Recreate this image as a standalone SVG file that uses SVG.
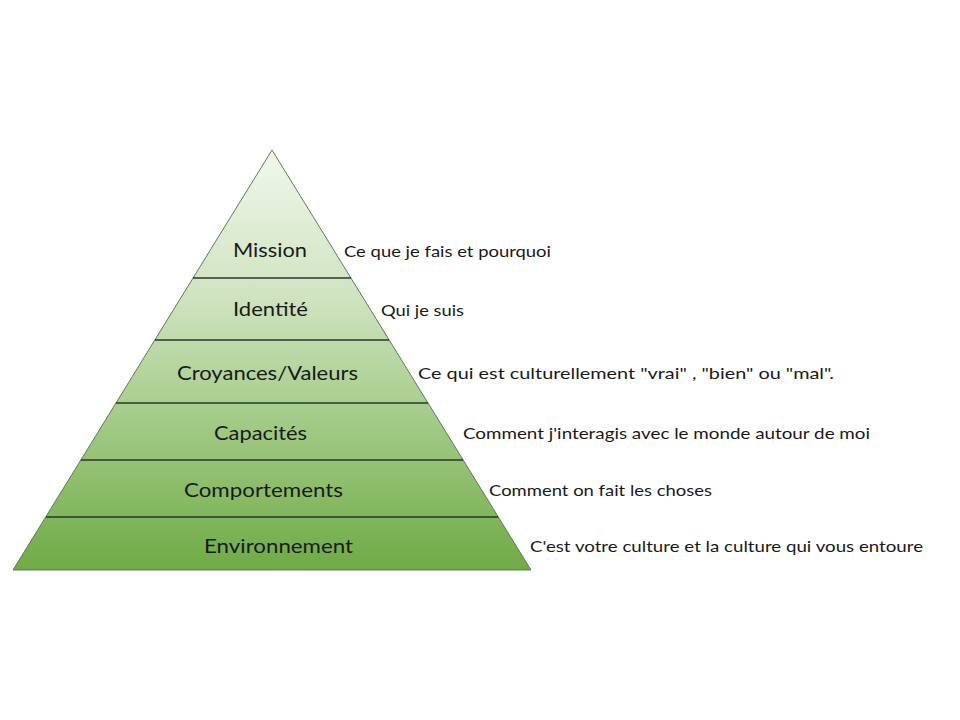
<svg xmlns="http://www.w3.org/2000/svg" width="960" height="720" viewBox="0 0 960 720">
  <defs>
    <linearGradient id="g" x1="0" y1="150" x2="0" y2="570" gradientUnits="userSpaceOnUse">
      <stop offset="0" stop-color="#f1f7ec"/>
      <stop offset="0.35" stop-color="#cfe3c0"/>
      <stop offset="0.6" stop-color="#a9cf8f"/>
      <stop offset="1" stop-color="#6fab45"/>
    </linearGradient>
  </defs>
  <style>
    .lbl { font-family: Lato, "Open Sans", "Liberation Sans", sans-serif; font-size: 20px; fill: #1a1a1a; }
    .desc { font-family: Lato, "Open Sans", "Liberation Sans", sans-serif; font-size: 16px; fill: #1a1a1a; }
    .div { stroke: #2b352b; stroke-width: 1.3; }
  </style>
  <rect width="960" height="720" fill="#ffffff"/>
  <g id="pyramid">
    <polygon points="272,150 531,570 13,570" fill="url(#g)" stroke="#66775e" stroke-width="1"/>
  </g>
  <g id="connectors">
    <line class="div" x1="193" y1="278" x2="351" y2="278"/>
    <line class="div" x1="155" y1="340" x2="389" y2="340"/>
    <line class="div" x1="116" y1="403" x2="428" y2="403"/>
    <line class="div" x1="81" y1="460" x2="463" y2="460"/>
    <line class="div" x1="46" y1="517" x2="498" y2="517"/>
  </g>
  <g id="mission">
    <text class="lbl" x="233" y="257" textLength="74" lengthAdjust="spacingAndGlyphs">Mission</text>
    <text class="desc" x="344" y="257" textLength="207" lengthAdjust="spacingAndGlyphs">Ce que je fais et pourquoi</text>
  </g>
  <g id="identite">
    <text class="lbl" x="233" y="316" textLength="75" lengthAdjust="spacingAndGlyphs">Identité</text>
    <text class="desc" x="381" y="316" textLength="83" lengthAdjust="spacingAndGlyphs">Qui je suis</text>
  </g>
  <g id="croyances">
    <text class="lbl" x="177" y="380" textLength="181" lengthAdjust="spacingAndGlyphs">Croyances/Valeurs</text>
    <text class="desc" x="418" y="379" textLength="416" lengthAdjust="spacingAndGlyphs">Ce qui est culturellement "vrai" , "bien" ou "mal".</text>
  </g>
  <g id="capacites">
    <text class="lbl" x="214" y="440" textLength="93" lengthAdjust="spacingAndGlyphs">Capacités</text>
    <text class="desc" x="463" y="439" textLength="407" lengthAdjust="spacingAndGlyphs">Comment j'interagis avec le monde autour de moi</text>
  </g>
  <g id="comportements">
    <text class="lbl" x="184" y="497" textLength="159" lengthAdjust="spacingAndGlyphs">Comportements</text>
    <text class="desc" x="489" y="496" textLength="223" lengthAdjust="spacingAndGlyphs">Comment on fait les choses</text>
  </g>
  <g id="environnement">
    <text class="lbl" x="204" y="553" textLength="149" lengthAdjust="spacingAndGlyphs">Environnement</text>
    <text class="desc" x="530" y="552" textLength="393" lengthAdjust="spacingAndGlyphs">C'est votre culture et la culture qui vous entoure</text>
  </g>
</svg>
